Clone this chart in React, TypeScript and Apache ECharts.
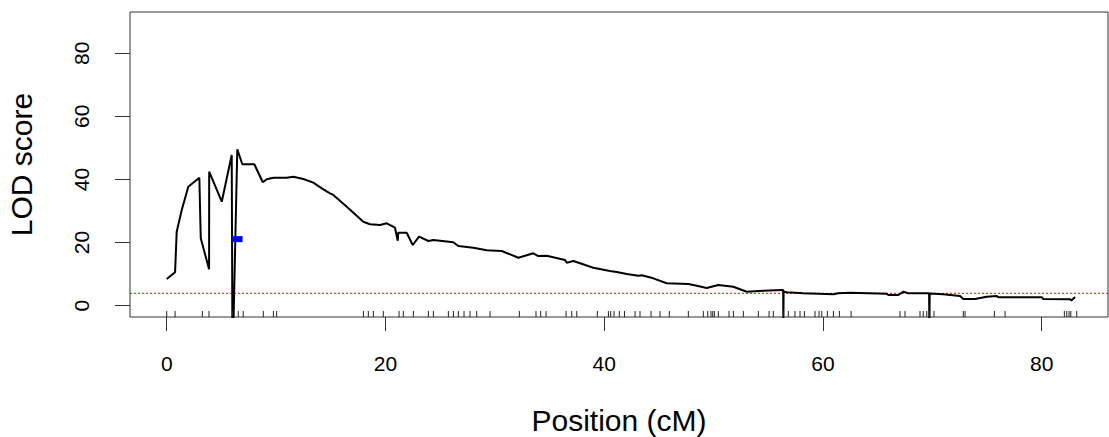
import React, { useEffect, useRef } from "react";
import * as echarts from "echarts";

// LOD profile (position in cM, LOD score)
const positions = [
  0, 0.76, 0.91, 1.37, 1.97, 2.98, 3.05, 3.11, 3.87, 3.88, 5.03, 5.94, 6.0, 6.1, 6.45, 6.91,
  8.01, 8.78, 9.14, 9.75, 10.97, 11.57, 12.49, 13.4, 14.32, 14.93, 15.23, 16.46, 17.97,
  18.59, 19.5, 20.11, 20.87, 21.12, 21.17, 21.94, 22.49, 23.07, 23.92, 24.38, 26.2, 26.66,
  28.03, 29.26, 30.63, 32.15, 33.52, 33.97, 34.74, 36.42, 36.57, 37.18, 39.0, 40.52, 41.14,
  42.06, 43.12, 43.43, 44.49, 45.71, 47.69, 48.46, 49.37, 50.43, 51.8, 53.03, 54.55, 56.23,
  56.36, 56.38, 56.4, 56.69, 58.2, 60.95, 61.38, 62.47, 65.83, 65.98, 66.89, 67.35, 67.8,
  69.7, 69.73, 69.76, 71.0, 72.53, 72.83, 73.9, 74.97, 75.89, 76.03, 80.0, 80.15, 82.59,
  82.74, 83.05,
];
const lodScores = [
  8.46, 10.59, 23.45, 30.33, 37.72, 40.57, 30.0, 21.36, 11.54, 42.47, 32.96, 47.77, -6, -6, 49.57, 44.82,
  44.82, 39.11, 40.06, 40.57, 40.57, 40.89, 40.16, 38.99, 36.89, 35.63, 35.09, 31.38, 26.62,
  25.8, 25.58, 26.12, 24.72, 20.6, 23.14, 23.14, 19.24, 21.87, 20.51, 20.82, 20.1, 18.92,
  18.38, 17.56, 17.34, 15.21, 16.61, 15.75, 15.85, 14.49, 13.63, 14.17, 12.04, 11.0, 10.68,
  10.05, 9.51, 9.64, 8.68, 7.1, 6.88, 6.34, 5.61, 6.56, 6.02, 4.44, 4.75, 4.98,
  4.98, -6, 4.5, 4.25, 3.93, 3.61, 3.93, 4.12, 3.8, 3.39, 3.39, 4.44, 3.93,
  3.93, -6, 3.9, 3.61, 3.07, 2.12, 2.12, 2.85, 3.07, 2.66, 2.66, 2.12, 2.03,
  1.71, 2.76,
];
// genetic marker positions (rug)
const markers = [
  0, 0.76, 3.25, 3.86, 6.0, 6.54, 6.99, 8.83, 9.75, 10.05,
  17.98, 18.43, 18.89, 19.8, 21.24, 21.63, 22.55, 23.92, 24.38, 25.75, 26.21, 26.66,
  27.18, 27.73, 28.34, 29.56, 32.24, 33.76, 34.19, 34.68, 36.51, 37.03, 37.49, 39.37,
  40.38, 40.59, 40.89, 41.38, 41.85, 42.82, 43.27, 44.28, 45.1, 45.95, 47.69, 49.06,
  49.46, 49.76, 49.92, 50.07, 50.43, 51.41, 51.81, 52.72, 54.09, 55.07, 55.46, 56.38,
  56.83, 57.44, 57.9, 58.3, 59.27, 59.64, 59.89, 60.4, 60.95, 61.5, 62.57, 67.04, 67.5,
  68.87, 69.17, 69.49, 69.73, 70.15, 72.83, 72.99, 75.67, 76.65, 82.07, 82.29, 82.5,
  82.66, 83.2,
];
const xTicks = [0, 20, 40, 60, 80];
const yTicks = [0, 20, 40, 60, 80];
const threshold = 3.93;
const peakMarker = [6.43, 21.1];

export default function App() {
  const ref = useRef<HTMLDivElement>(null);
  useEffect(() => {
    const chart = echarts.init(ref.current!, null, { renderer: "svg" });
    const font = "'Liberation Sans', Arial, sans-serif";
    const xMin = -3.36;
    const xMax = 86.06;
    const yMin = -3.58;
    chart.setOption({
      animation: false,
      grid: {
        left: 130, top: 12, width: 978, height: 305,
        show: true, borderColor: "#333", borderWidth: 1,
        containLabel: false,
        outerBoundsMode: "none",
      },
      xAxis: {
        type: "value", min: xMin, max: xMax,
        axisLine: { show: false, onZero: false },
        splitLine: { show: false },
        axisTick: { show: true, customValues: xTicks, length: 14, lineStyle: { color: "#333" } },
        axisLabel: { customValues: xTicks, fontSize: 21, color: "#000", margin: 36, fontFamily: font },
        name: "Position (cM)", nameLocation: "middle", nameGap: 88,
        nameTextStyle: { fontSize: 30, color: "#000", fontFamily: font },
      },
      yAxis: {
        type: "value", min: yMin, max: 93.08,
        axisLine: { show: false, onZero: false },
        splitLine: { show: false },
        axisTick: { show: true, customValues: yTicks, length: 15, lineStyle: { color: "#333" } },
        axisLabel: { customValues: yTicks, fontSize: 21, color: "#000", margin: 38, rotate: 90, fontFamily: font },
        name: "LOD score", nameLocation: "middle", nameGap: 94,
        nameTextStyle: { fontSize: 30, color: "#000", fontFamily: font },
      },
      series: [
        {
          type: "line",
          data: [[xMin, threshold], [xMax, threshold]],
          showSymbol: false,
          symbol: "none",
          lineStyle: { color: "#ff0000", width: 1, type: [2, 2] },
          z: 1,
        },
        {
          type: "line",
          data: positions.map((p, i) => [p, lodScores[i]]),
          showSymbol: false,
          symbol: "none",
          clip: true,
          lineStyle: { color: "#000", width: 2 },
          z: 2,
        },
        {
          type: "scatter",
          data: markers.map((m) => [m, yMin]),
          symbol: "rect",
          symbolSize: [1, 6],
          symbolOffset: [0, -3],
          itemStyle: { color: "#222", opacity: 1 },
        },
        {
          type: "scatter",
          data: [peakMarker],
          symbol: "rect",
          symbolSize: [11, 6],
          itemStyle: { color: "#0000ff", opacity: 1 },
          z: 3,
        },
      ],
    });
    return () => chart.dispose();
  }, []);
  return (
    <div
      ref={ref}
      style={{ position: "absolute", left: 0, top: 0, width: 1109, height: 437 }}
    />
  );
}
